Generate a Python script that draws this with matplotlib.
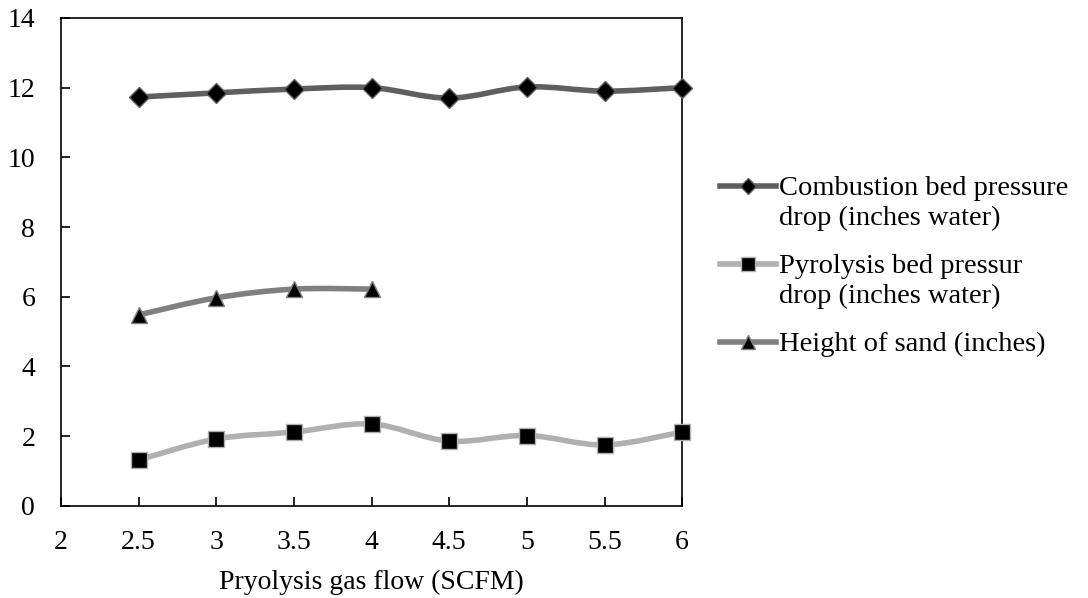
import numpy as np
import matplotlib
matplotlib.use("Agg")
import matplotlib.pyplot as plt
from matplotlib.path import Path
from matplotlib.patches import PathPatch
from matplotlib.lines import Line2D

plt.rcParams['font.family'] = ['Liberation Serif', 'DejaVu Serif']

# Data
gas_flow = [2.5, 3, 3.5, 4, 4.5, 5, 5.5, 6]
combustion_dp = [11.73, 11.85, 11.96, 12.0, 11.70, 12.02, 11.90, 12.0]
pyrolysis_dp = [1.32, 1.92, 2.12, 2.35, 1.86, 2.02, 1.75, 2.12]
sand_flow = [2.5, 3, 3.5, 4]
sand_height = [5.48, 5.97, 6.22, 6.22]

labels = ['Combustion bed pressure\ndrop (inches water)',
          'Pyrolysis bed pressur\ndrop (inches water)',
          'Height of sand (inches)']

W, H = 1088, 598


def smooth_path(x, y):
    """Excel-like smooth line: Catmull-Rom converted to cubic Bezier."""
    x = np.asarray(x, float)
    y = np.asarray(y, float)
    pts = np.column_stack([x, y])
    verts = [pts[0]]
    codes = [Path.MOVETO]
    n = len(pts)
    for i in range(n - 1):
        p0 = pts[i - 1] if i > 0 else pts[i]
        p1 = pts[i]
        p2 = pts[i + 1]
        p3 = pts[i + 2] if i + 2 < n else pts[i + 1]
        c1 = p1 + (p2 - p0) / 6.0
        c2 = p2 - (p3 - p1) / 6.0
        verts += [c1, c2, p2]
        codes += [Path.CURVE4] * 3
    return Path(verts, codes)


fig = plt.figure(figsize=(W / 100, H / 100), dpi=100)
ax = fig.add_axes([0.056, 0.154, 0.571, 0.816])

series = [
    (gas_flow, combustion_dp, '#5f5f5f', 'D', 10),
    (gas_flow, pyrolysis_dp, '#b0b0b0', 's', 12),
    (sand_flow, sand_height, '#7f7f7f', '^', 12),
]

for xs, ys, col, mk, ms in series:
    ax.add_patch(PathPatch(smooth_path(xs, ys), facecolor='none',
                           edgecolor=col, lw=4, capstyle='round', zorder=2))
    ax.plot(xs, ys, ls='none', marker=mk, ms=ms, mfc='black',
            mec=col, mew=1, zorder=3, clip_on=False)

ax.set_xlim(2, 6)
ax.set_ylim(0, 14)
ax.set_xticks([2, 2.5, 3, 3.5, 4, 4.5, 5, 5.5, 6])
ax.set_xticklabels(['2', '2.5', '3', '3.5', '4', '4.5', '5', '5.5', '6'])
ax.set_yticks(range(0, 15, 2))
ax.tick_params(direction='in', length=6.5, width=1.2, labelsize=20,
               colors='black')
ax.tick_params(axis='x', pad=17)
ax.tick_params(axis='y', pad=18.5)
for sp in ax.spines.values():
    sp.set_linewidth(1.2)
ax.set_xlabel('Pryolysis gas flow (SCFM)', fontsize=20, labelpad=11)

# legend drawn by hand so the key sits on the first text line (Excel style)
line_h = 30
entry_gap = 18
baseline = 195
for (xs, ys, col, mk, ms), lab in zip(series, labels):
    ykey = 1 - (baseline - 9) / H
    fig.add_artist(Line2D([720 / W, 776 / W], [ykey, ykey], color=col,
                          lw=4, transform=fig.transFigure))
    fig.add_artist(Line2D([748 / W], [ykey], ls='none', marker=mk,
                          ms=ms * 0.85, mfc='black', mec=col, mew=1,
                          transform=fig.transFigure))
    for row in lab.split('\n'):
        fig.text(779 / W, 1 - baseline / H, row, fontsize=20.5,
                 va='baseline', ha='left')
        baseline += line_h
    baseline += entry_gap

fig.savefig('out.png', dpi=100)
